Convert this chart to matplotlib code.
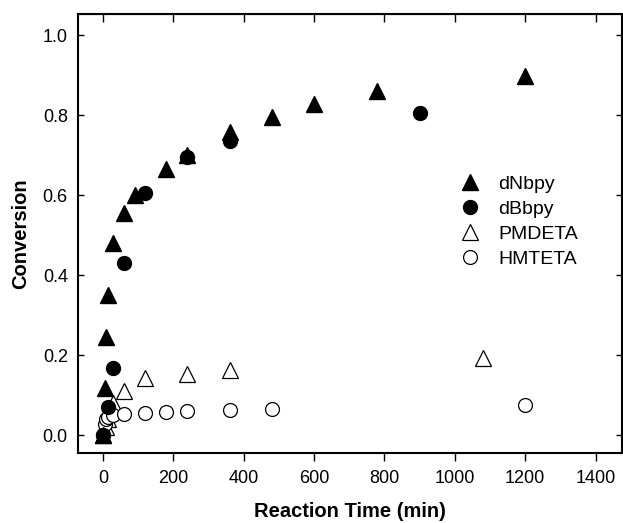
import matplotlib
matplotlib.use('agg')
import matplotlib.pyplot as plt

plt.rcParams['font.family'] = ['Liberation Sans', 'DejaVu Sans']

# conversion vs reaction time for four ligands
t_dnbpy = [0, 5, 10, 15, 30, 60, 90, 180, 240, 360, 480, 600, 780, 1200]
c_dnbpy = [0.0, 0.118, 0.245, 0.35, 0.48, 0.555, 0.60, 0.665, 0.70, 0.757, 0.795, 0.828, 0.86, 0.898]

t_dbbpy = [0, 15, 30, 60, 120, 240, 360, 900]
c_dbbpy = [0.0, 0.07, 0.168, 0.43, 0.605, 0.695, 0.735, 0.805]

t_pmdeta = [0, 10, 15, 30, 60, 120, 240, 360, 1080]
c_pmdeta = [0.0, 0.02, 0.04, 0.08, 0.11, 0.143, 0.153, 0.163, 0.193]

t_hmteta = [0, 5, 10, 15, 30, 60, 120, 180, 240, 360, 480, 1200]
c_hmteta = [0.0, 0.027, 0.04, 0.045, 0.05, 0.053, 0.056, 0.058, 0.06, 0.063, 0.066, 0.076]

xticks = [0, 200, 400, 600, 800, 1000, 1200, 1400]
yticks = [0.0, 0.2, 0.4, 0.6, 0.8, 1.0]

fig = plt.figure(figsize=(6.23, 5.23), dpi=100)
ax = fig.add_axes([0.1244, 0.1338, 0.874, 0.8394])

ax.plot(t_dnbpy, c_dnbpy, '^', color='black', ms=11, label='dNbpy', zorder=4)
ax.plot(t_dbbpy, c_dbbpy, 'o', color='black', ms=10, label='dBbpy', zorder=3)
ax.plot(t_pmdeta, c_pmdeta, '^', mfc='white', mec='black', mew=0.9, ms=11, label='PMDETA', zorder=2)
ax.plot(t_hmteta, c_hmteta, 'o', mfc='white', mec='black', mew=0.9, ms=10, label='HMTETA', zorder=2)

ax.set_xlim(-72, 1475)
ax.set_ylim(-0.045, 1.0525)
ax.set_xticks(xticks)
ax.set_yticks(yticks)
ax.set_yticklabels(['%.1f' % v for v in yticks])
ax.tick_params(axis='x', direction='out', length=6, width=1, pad=6, labelsize=13)
ax.tick_params(axis='y', direction='in', length=4, width=1, pad=7, labelsize=13)

for s in ax.spines.values():
    s.set_linewidth(1.5)

# mirrored inward ticks on top and right
top = ax.secondary_xaxis('top')
top.set_xticks(xticks)
top.tick_params(direction='in', length=6, width=1, labeltop=False)
right = ax.secondary_yaxis('right')
right.set_yticks(yticks)
right.tick_params(direction='in', length=4, width=1, labelright=False)

ax.set_xlabel('Reaction Time (min)', fontsize=14.5, fontweight='bold', labelpad=11)
ax.set_ylabel('Conversion', fontsize=14.5, fontweight='bold', labelpad=9)

ax.legend(loc='center left', bbox_to_anchor=(0.667, 0.527), frameon=False,
          fontsize=14, handlelength=1.2, handletextpad=0.85, labelspacing=0.38,
          numpoints=1)

plt.savefig('out.png', dpi=100)
plt.close()
